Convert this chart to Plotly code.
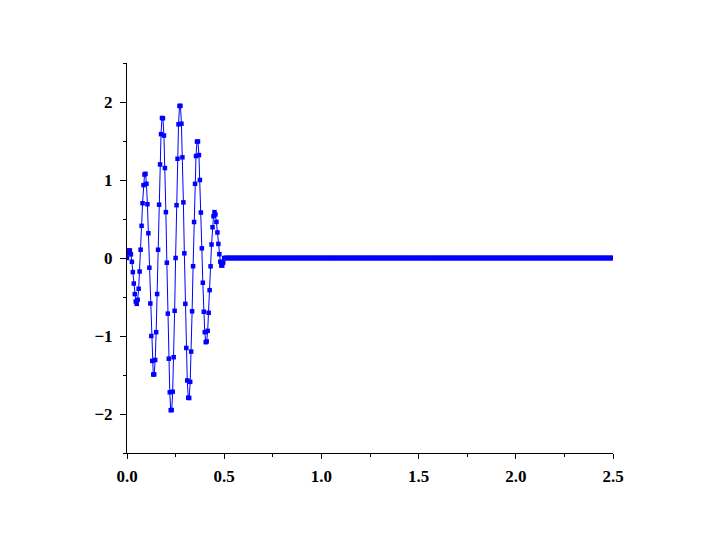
import numpy as np
import plotly.graph_objects as go

# sample step (s) and values
dt = 0.005
burst = [
    0.0, 0.0591, 0.0968, 0.0958, 0.0470, -0.0489, -0.1806, -0.3273, -0.4625, -0.5577,
    -0.5878, -0.5353, -0.3945, -0.1733, 0.1067, 0.4122, 0.7024, 0.9344, 1.0695, 1.0795,
    0.9511, 0.6890, 0.3171, -0.1245, -0.5830, -1.0, -1.3192, -1.4936, -1.4926, -1.3071,
    -0.9511, -0.4615, 0.1060, 0.6836, 1.1997, 1.5878, 1.7954, 1.7913, 1.5700, 1.1533,
    0.5878, -0.0603, -0.7131, -1.2908, -1.7216, -1.9511, -1.9491, -1.7138, -1.2723, -0.6771,
    0.0, 0.6771, 1.2723, 1.7138, 1.9491, 1.9511, 1.7216, 1.2908, 0.7131, 0.0603,
    -0.5878, -1.1533, -1.5700, -1.7913, -1.7954, -1.5878, -1.1997, -0.6836, -0.1060, 0.4615,
    0.9511, 1.3071, 1.4926, 1.4936, 1.3192, 1.0, 0.5830, 0.1245, -0.3171, -0.6890,
    -0.9511, -1.0795, -1.0695, -0.9344, -0.7024, -0.4122, -0.1067, 0.1733, 0.3945, 0.5353,
    0.5878, 0.5577, 0.4625, 0.3273, 0.1806, 0.0489, -0.0470, -0.0958, -0.0968, -0.0591,
    0.0,
]
tail = [0.0] * 400  # flat zero segment out to 2.5

y_vals = burst + tail
t_vals = np.arange(len(y_vals)) * dt

x_ticks = [0.0, 0.5, 1.0, 1.5, 2.0, 2.5]
y_ticks = [-2, -1, 0, 1, 2]

fig = go.Figure()
fig.add_trace(go.Scatter(
    x=t_vals, y=y_vals, mode="lines+markers",
    line=dict(color="#0000FF", width=1),
    marker=dict(symbol="square", size=4.5, color="#0000FF", line=dict(width=0)),
    showlegend=False,
))

tickfont = dict(family="Liberation Serif", size=17, color="black", weight="bold")

fig.update_layout(
    width=715, height=547,
    margin=dict(l=119, r=110, t=55, b=102),
    paper_bgcolor="white", plot_bgcolor="white",
    xaxis=dict(
        range=[0, 2.5], tickvals=x_ticks, tickformat=".1f",
        showgrid=False, zeroline=False, showline=True, linecolor="black", linewidth=1,
        ticks="outside", ticklen=5, tickcolor="black", tickwidth=1,
        ticklabelstandoff=3,
        minor=dict(dtick=0.25, ticks="outside", ticklen=3, tickcolor="black", showgrid=False),
        tickfont=tickfont,
    ),
    yaxis=dict(
        range=[-2.5, 2.5], tickvals=y_ticks,
        showgrid=False, zeroline=False, showline=True, linecolor="black", linewidth=1,
        ticks="outside", ticklen=6, tickcolor="black", tickwidth=1,
        ticklabelstandoff=4,
        minor=dict(dtick=0.5, tick0=0.5, ticks="outside", ticklen=3, tickcolor="black", showgrid=False),
        tickfont=tickfont,
    ),
)

fig.write_html("out.html")
